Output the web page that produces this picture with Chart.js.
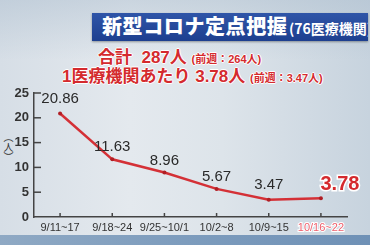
<!DOCTYPE html>
<html><head><meta charset="utf-8">
<script src="https://cdn.jsdelivr.net/npm/chart.js@4/dist/chart.umd.min.js"></script>
<style>
html,body{margin:0;padding:0;}
body{width:370px;height:245px;overflow:hidden;position:relative;
background:linear-gradient(to right,#d6dee6 0%,#e4e9ee 35%,#dde4ea 60%,#c7d3de 100%);}
#topshade{position:absolute;left:0;top:0;width:370px;height:245px;
background:linear-gradient(to bottom,rgba(170,188,205,0.45) 0px,rgba(200,212,222,0) 60px);}
#band{position:absolute;left:0;top:235px;width:370px;height:10px;
background:linear-gradient(to right,#8fa9c4,#7d9cbd 50%,#6f91b6);}
#title{position:absolute;left:92px;top:13px;width:276px;height:28px;
background:linear-gradient(to bottom,#2f55a8,#1d3f8f);box-shadow:0 1px 2px rgba(0,0,0,0.35);
color:#fff;font-family:"Noto Sans CJK JP";font-weight:900;white-space:nowrap;overflow:hidden;}
#title .m{position:absolute;left:10px;top:-2px;font-size:20px;letter-spacing:0.6px;line-height:30px;}
#title .s{position:absolute;left:197px;top:0px;font-size:14px;line-height:30px;font-weight:700;}
.red{position:absolute;left:0;width:370px;white-space:nowrap;color:#d42a2e;font-weight:700;
font-family:"Liberation Sans","Noto Sans CJK JP";
text-shadow:1px 0 0 #fff,-1px 0 0 #fff,0 1px 0 #fff,0 -1px 0 #fff;}
.red .p{font-size:11px;}
#l1{top:46px;font-size:17px;line-height:20px;}
#l1 .b{position:absolute;left:98px;}
#l2{top:64px;font-size:17px;line-height:22px;}
#l2 .b{position:absolute;left:62px;}
#ylab{position:absolute;left:1px;top:132px;writing-mode:vertical-rl;font-family:"Noto Sans CJK JP";
font-size:10px;color:#333;}
canvas{position:absolute;left:0;top:0;}
</style></head>
<body>
<div id="topshade"></div>
<div id="band"></div>
<div id="title"><span class="m">新型コロナ定点把握</span><span class="s">(76医療機関)</span></div>
<div class="red" id="l1"><span class="b"><span style="font-family:'Noto Sans CJK JP'">合計</span>&nbsp;&nbsp;287<span style="font-family:'Noto Sans CJK JP'">人</span> <span class="p">(<span style="font-family:'Noto Sans CJK JP'">前週：</span>264<span style="font-family:'Noto Sans CJK JP'">人</span>)</span></span></div>
<div class="red" id="l2"><span class="b">1<span style="font-family:'Noto Sans CJK JP'">医療機関あたり</span> 3.78<span style="font-family:'Noto Sans CJK JP'">人</span> <span class="p">(<span style="font-family:'Noto Sans CJK JP'">前週：</span>3.47<span style="font-family:'Noto Sans CJK JP'">人</span>)</span></span></div>
<div id="ylab">（人）</div>
<canvas id="c" width="370" height="245"></canvas>
<script>
const categories = ["9/11~17","9/18~24","9/25~10/1","10/2~8","10/9~15","10/16~22"];
const values = [20.86, 11.63, 8.96, 5.67, 3.47, 3.78];
const valueLabels = ["20.86","11.63","8.96","5.67","3.47","3.78"];
const yTicks = [0,5,10,15,20,25];

const innerTicks = {
  id:'innerTicks',
  afterDraw(chart){
    const ctx = chart.ctx, x = chart.scales.x, y = chart.scales.y, a = chart.chartArea;
    ctx.save();
    ctx.strokeStyle = '#444'; ctx.lineWidth = 1.5;
    yTicks.forEach(v=>{ if(v===0) return;
      const py = y.getPixelForValue(v);
      ctx.beginPath(); ctx.moveTo(a.left, py); ctx.lineTo(a.left+7, py); ctx.stroke();
    });
    categories.forEach((c,i)=>{
      const px = x.getPixelForValue(i);
      ctx.beginPath(); ctx.moveTo(px, a.bottom); ctx.lineTo(px, a.bottom-4); ctx.stroke();
    });
    ctx.restore();
  }
};
const valueLabelPlugin = {
  id:'valueLabels',
  afterDatasetsDraw(chart){
    const ctx = chart.ctx;
    const meta = chart.getDatasetMeta(0);
    ctx.save();
    ctx.textAlign='center'; ctx.textBaseline='middle';
    meta.data.forEach((pt,i)=>{
      const last = i===values.length-1;
      if(last){
        ctx.font = 'bold 20px "Liberation Sans"';
        ctx.lineWidth = 3; ctx.strokeStyle = '#fff';
        ctx.strokeText(valueLabels[i], pt.x+19, pt.y-14);
        ctx.fillStyle = '#d42a2e';
        ctx.fillText(valueLabels[i], pt.x+19, pt.y-14);
      } else {
        ctx.font = '15px "Liberation Sans"';
        ctx.fillStyle = '#2a2a2a';
        const off = (i===0||i===4)?15:12;
        ctx.fillText(valueLabels[i], pt.x, pt.y-off);
      }
    });
    ctx.restore();
  }
};

new Chart(document.getElementById('c'), {
  type:'line',
  data:{labels:categories, datasets:[{data:values, borderColor:'#d43036', borderWidth:2.5,
    pointRadius:2, pointBackgroundColor:'#b01e24', pointBorderWidth:0, tension:0}]},
  options:{
    responsive:false, animation:false,
    layout:{padding:{left:0,right:23,top:93,bottom:0}},
    plugins:{legend:{display:false}, tooltip:{enabled:false}},
    scales:{
      x:{offset:true, grid:{display:false, drawTicks:false},
        border:{color:'#444', width:1.5},
        afterFit(s){ s.height = 28; },
        ticks:{padding:4, maxRotation:0, autoSkip:false,
          font:{family:'Liberation Sans', size:11},
          color:(c)=> c.index===categories.length-1 ? '#ee5f6c' : '#333',
          textStrokeColor:(c)=> c.index===categories.length-1 ? '#fff' : 'rgba(0,0,0,0)',
          textStrokeWidth:(c)=> c.index===categories.length-1 ? 2 : 0}},
      y:{min:0, max:25, grid:{display:false, drawTicks:false},
        border:{color:'#444', width:1.5},
        afterFit(s){ s.width = 34; },
        afterBuildTicks(s){ s.ticks = yTicks.map(v=>({value:v})); },
        ticks:{padding:5, font:{family:'Liberation Sans', size:13, weight:'bold'}, color:'#333'}}
    }
  },
  plugins:[innerTicks, valueLabelPlugin]
});
</script>
</body></html>
